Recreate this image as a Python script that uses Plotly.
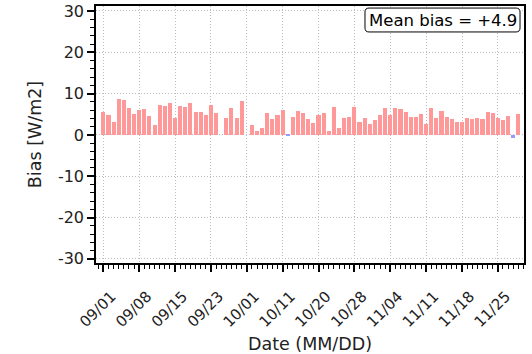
import plotly.graph_objects as go

# Daily bias values (index-based; None = missing day)
bias = [5.6, 4.8, 3.2, 8.7, 8.5, 6.5, 5.0, 6.0, 6.2, 4.6,
        2.4, 7.3, 7.1, 7.8, 4.0, 7.0, 6.7, 7.7, 5.5, 5.5,
        4.8, 7.3, 5.3, None, 4.2, 6.5, 4.1, 8.2, None, 2.3,
        1.0, 1.6, 5.2, 3.8, 4.9, 6.0, -0.3, 4.4, 5.9, 5.2,
        3.8, 3.0, 4.7, 5.2, 1.0, 6.7, 1.6, 4.2, 4.3, 6.7,
        3.1, 4.0, 2.7, 3.5, 4.8, 6.5, 4.8, 6.5, 6.3, 5.6,
        4.4, 4.4, 5.1, 2.7, 6.6, 4.0, 5.9, 4.4, 3.8, 3.2,
        3.2, 4.2, 3.9, 4.2, 3.8, 5.6, 5.2, 4.2, 3.6, 4.6,
        -0.8, 5.0]
tick_labels = ["09/01", "09/08", "09/15", "09/23", "10/01", "10/11",
               "10/20", "10/28", "11/04", "11/11", "11/18", "11/25"]
tick_step = 7
y_ticks = [-30, -20, -10, 0, 10, 20, 30]
y_tick_labels = ["-30", "-20", "-10", "0", "10", "20", "30"]
mean_text = "Mean bias = +4.9"

idx = list(range(len(bias)))
colors = ["rgb(255,153,153)" if (v is not None and v >= 0) else "rgb(153,153,255)" for v in bias]

fig = go.Figure()
fig.add_trace(go.Bar(x=idx, y=bias, marker=dict(color=colors, line=dict(width=0)),
                     width=0.8, showlegend=False))

font = "DejaVu Sans"
fig.update_layout(
    width=532, height=354,
    margin=dict(l=96, r=8, t=6, b=91),
    paper_bgcolor="white", plot_bgcolor="white",
    font=dict(family=font, size=14, color="#222222"),
    bargap=0,
)
fig.update_xaxes(
    automargin=False,
    range=[-1.43, 82.1],
    tickmode="array",
    tickvals=[i * tick_step for i in range(len(tick_labels))],
    ticktext=tick_labels,
    tickangle=-45,
    tickfont=dict(size=15),
    ticklabelshift=8, ticklabelstandoff=10,
    ticks="outside", ticklen=7, tickwidth=1.5, tickcolor="black",
    minor=dict(tickmode="array", tickvals=list(range(-1, 83)), ticks="outside",
               ticklen=4, tickwidth=1, tickcolor="black", showgrid=False),
    showgrid=True, gridcolor="#bdbdbd", griddash="1px,2px", gridwidth=1,
    showline=True, linecolor="black", linewidth=1.5, mirror=True,
    zeroline=False,
    title=dict(text="Date (MM/DD)", font=dict(size=17.5), standoff=8),
)
fig.update_yaxes(
    automargin=False,
    range=[-31.0, 31.2],
    tickmode="array", tickvals=y_ticks, ticktext=y_tick_labels,
    tickfont=dict(size=16),
    ticks="outside", ticklen=7, tickwidth=1.5, tickcolor="black",
    minor=dict(tickmode="linear", tick0=0, dtick=2, ticks="outside",
               ticklen=4, tickwidth=1, tickcolor="black", showgrid=False),
    showgrid=True, gridcolor="#bdbdbd", griddash="1px,2px", gridwidth=1,
    showline=True, linecolor="black", linewidth=1.5, mirror=True,
    zeroline=False,
    title=dict(text="Bias [W/m2]", font=dict(size=17.5), standoff=12),
)

# rounded box for the mean-bias label (paper coordinates)
bx0, bx1, by0, by1 = 0.6285, 0.9907, 0.899, 0.992
rx, ry = 0.0093, 0.0156
path = (f"M {bx0+rx},{by0} L {bx1-rx},{by0} Q {bx1},{by0} {bx1},{by0+ry} "
        f"L {bx1},{by1-ry} Q {bx1},{by1} {bx1-rx},{by1} "
        f"L {bx0+rx},{by1} Q {bx0},{by1} {bx0},{by1-ry} "
        f"L {bx0},{by0+ry} Q {bx0},{by0} {bx0+rx},{by0} Z")
fig.add_shape(type="path", path=path, xref="paper", yref="paper",
              fillcolor="white", line=dict(color="black", width=1), layer="above")
fig.add_annotation(
    x=(bx0 + bx1) / 2, y=(by0 + by1) / 2, xref="paper", yref="paper",
    xanchor="center", yanchor="middle",
    text=mean_text, showarrow=False, font=dict(size=16.5, family=font, color="black"),
)
fig.write_html("out.html", config={"displayModeBar": False},
               post_script="document.body.style.margin='0px';")
